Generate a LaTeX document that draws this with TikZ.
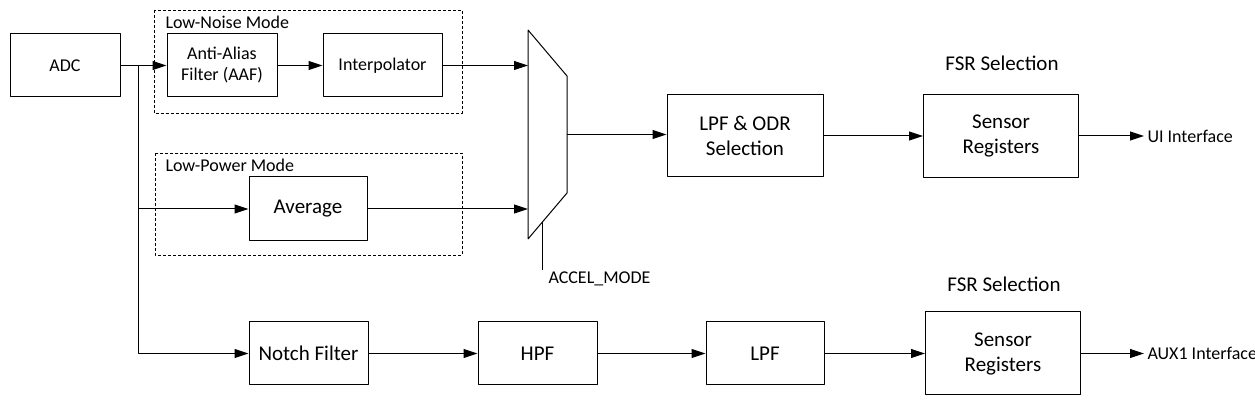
\documentclass[tikz,border=0pt]{standalone}
\usepackage{fontspec}
\setmainfont{Carlito}
\usepackage{tikz}
\usetikzlibrary{arrows.meta}
\usetikzlibrary{positioning}
\usetikzlibrary{calc}
\tikzset{blk/.style={draw, line width=1bp, align=center, inner sep=0pt, font=\fontsize{21bp}{25bp}\selectfont},
  sblk/.style={blk, font=\fontsize{18bp}{21bp}\selectfont},
  modebox/.style={draw, line width=0.9bp, dash pattern=on 3bp off 2bp},
  lbl/.style={inner sep=0pt, font=\fontsize{18bp}{21bp}\selectfont},
  biglbl/.style={inner sep=0pt, font=\fontsize{21bp}{25bp}\selectfont}}

\begin{document}
\begin{tikzpicture}[>={Triangle[length=14bp,width=9bp]}, line width=1bp, line join=bevel]
\useasboundingbox (0bp,0bp) rectangle (1255bp,400bp);
%%
\draw [modebox] (154bp,390bp) rectangle (462bp,287bp);
  \draw [modebox] (155bp,247bp) rectangle (462bp,145bp);
  \node (ln_lbl) at (165bp,371bp) [lbl,anchor=base west] {Low-Noise Mode};
  \node (lp_lbl) at (165bp,228bp) [lbl,anchor=base west] {Low-Power Mode};
  \node (adc) at (65bp,334.5bp) [sblk,minimum width=110bp,minimum height=63bp] {ADC};
  \node (aaf) at (222bp,334.5bp) [sblk,minimum width=110bp,minimum height=63bp] {Anti-Alias\\Filter (AAF)};
  \node (interp) at (382.5bp,334.5bp) [sblk,minimum width=119bp,minimum height=63bp] {Interpolator};
  \node (avg) at (308bp,191bp) [blk,minimum width=118bp,minimum height=64bp] {Average};
  \node (notch) at (308.5bp,46.5bp) [blk,minimum width=119bp,minimum height=63bp] {Notch Filter};
  \node (hpf) at (537.5bp,46.5bp) [blk,minimum width=119bp,minimum height=63bp] {HPF};
  \node (lpf) at (765bp,46.5bp) [blk,minimum width=118bp,minimum height=63bp] {LPF};
  \node (sreg2) at (1003bp,46.5bp) [blk,minimum width=155bp,minimum height=83bp] {Sensor\\Registers};
  \node (lpfodr) at (745bp,264bp) [blk,minimum width=156bp,minimum height=82bp] {LPF \& ODR\\Selection};
  \node (sreg1) at (1001bp,264bp) [blk,minimum width=155bp,minimum height=83bp] {Sensor\\Registers};
  \node (fsr1) at (1002bp,329bp) [biglbl,anchor=base] {FSR Selection};
  \node (fsr2) at (1004bp,108bp) [biglbl,anchor=base] {FSR Selection};
  % mux
  \draw (528bp,370bp) -- (567bp,324bp) -- (567bp,207bp) -- (528bp,161bp) -- cycle;
  \coordinate (mux_a) at (528bp,334.5bp);
  \coordinate (mux_b) at (528bp,191bp);
  \coordinate (mux_o) at (567bp,265.5bp);
  \coordinate (mux_s) at (542bp,177.5bp);
  \coordinate (sel) at (542bp,130bp);
  \node (accel) at (548bp,116bp) [lbl,anchor=base west] {ACCEL\_MODE};
  \coordinate (split) at (138bp,334.5bp);
  \coordinate (ui) at (1144bp,264bp);
  \coordinate (aux) at (1144bp,46.5bp);
  \node (ui_lbl) [lbl,right=3bp of ui] {UI Interface};
  \node (aux_lbl) [lbl,right=3bp of aux] {AUX1 Interface};
  %
  \draw [->] (adc) -- (aaf);
  \draw [->] (aaf) -- (interp);
  \draw [->] (interp) -- (mux_a);
  \draw [->] (split) |- (notch);
  \draw [->] (split |- avg) -- (avg);
  \draw [->] (avg) -- (mux_b);
  \draw (mux_s) -- (sel);
  \draw [->] (mux_o) -- (lpfodr.west |- mux_o);
  \draw [->] (lpfodr) -- (sreg1);
  \draw [->] (sreg1) -- (ui);
  \draw [->] (notch) -- (hpf);
  \draw [->] (hpf) -- (lpf);
  \draw [->] (lpf) -- (sreg2);
  \draw [->] (sreg2) -- (aux);
%
\end{tikzpicture}
\end{document}
